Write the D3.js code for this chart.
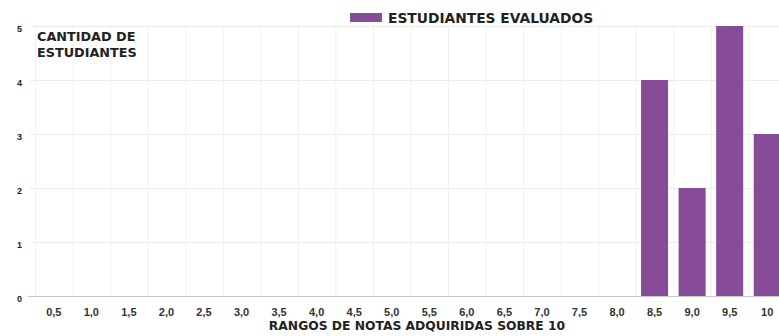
<!DOCTYPE html>
<html>
<head>
<meta charset="utf-8">
<script src="https://cdn.jsdelivr.net/npm/d3@7"></script>
<style>
  body { margin: 0; background: #fff; }
  svg { display: block; font-family: "DejaVu Sans", sans-serif; }
</style>
</head>
<body>
<div id="chart"></div>
<script>
// Data
const categories = ["0,5", "1,0", "1,5", "2,0", "2,5", "3,0", "3,5", "4,0", "4,5", "5,0",
                    "5,5", "6,0", "6,5", "7,0", "7,5", "8,0", "8,5", "9,0", "9,5", "10"];
const estudiantes = [0, 0, 0, 0, 0, 0, 0, 0, 0, 0, 0, 0, 0, 0, 0, 0, 4, 2, 5, 3];
const yTicks = [0, 1, 2, 3, 4, 5];
const seriesName = "ESTUDIANTES EVALUADOS";

const width = 779, height = 336;
const plot = { left: 35, right: 786, top: 26, bottom: 296 };
const barColor = "#874c98";

const svg = d3.select("#chart").append("svg")
    .attr("width", width)
    .attr("height", height);

const x = d3.scaleBand()
    .domain(categories)
    .range([plot.left, plot.right])
    .paddingInner(0.28)
    .paddingOuter(0.14);

const y = d3.scaleLinear()
    .domain([0, 5])
    .range([plot.bottom, plot.top]);

// Horizontal grid
svg.append("g")
    .selectAll("line")
    .data(yTicks.slice(1))
    .join("line")
    .attr("x1", plot.left - 5)
    .attr("x2", width)
    .attr("y1", d => y(d) + 0.5)
    .attr("y2", d => y(d) + 0.5)
    .attr("stroke", "#ebebeb");

// Vertical grid at band boundaries
const step = x.step();
svg.append("g")
    .selectAll("line")
    .data(categories)
    .join("line")
    .attr("x1", d => x(d) - x.paddingInner() * step / 2 + 0.5)
    .attr("x2", d => x(d) - x.paddingInner() * step / 2 + 0.5)
    .attr("y1", plot.top)
    .attr("y2", plot.bottom)
    .attr("stroke", "#f0f0f0");

// Bars
svg.append("g")
    .selectAll("rect")
    .data(categories.map((c, i) => ({ cat: c, value: estudiantes[i] })))
    .join("rect")
    .attr("x", d => x(d.cat))
    .attr("y", d => y(d.value))
    .attr("width", x.bandwidth())
    .attr("height", d => y(0) - y(d.value))
    .attr("fill", barColor);

// Baseline
svg.append("line")
    .attr("x1", plot.left - 7)
    .attr("x2", width)
    .attr("y1", y(0) + 0.5)
    .attr("y2", y(0) + 0.5)
    .attr("stroke", "#c8c8c8");

// Y axis labels
const yAxis = svg.append("g")
    .attr("transform", "translate(22,3)")
    .call(d3.axisLeft(y).tickValues(yTicks).tickFormat(d3.format("d")).tickSize(0).tickPadding(0));
yAxis.select(".domain").remove();
yAxis.selectAll("text")
    .attr("fill", "#222")
    .style("font-size", "9px")
    .style("font-weight", "bold");

// X axis labels
const xAxis = svg.append("g")
    .attr("transform", "translate(0," + (plot.bottom + 8) + ")")
    .call(d3.axisBottom(x).tickSize(0).tickPadding(4));
xAxis.select(".domain").remove();
xAxis.selectAll("text")
    .attr("fill", "#333")
    .style("font-size", "11px")
    .style("font-weight", "bold");

// Y title
const yTitle = svg.append("text")
    .attr("x", 37)
    .attr("y", 41)
    .attr("fill", "#222")
    .style("font-size", "12.8px")
    .style("font-weight", "bold");
yTitle.append("tspan").attr("x", 37).text("CANTIDAD DE");
yTitle.append("tspan").attr("x", 37).attr("dy", 15.5).text("ESTUDIANTES");

// X title
svg.append("text")
    .attr("x", 417)
    .attr("y", 330)
    .attr("text-anchor", "middle")
    .attr("fill", "#222")
    .style("font-size", "12.3px")
    .style("font-weight", "bold")
    .text("RANGOS DE NOTAS ADQUIRIDAS SOBRE 10");

// Legend
const legend = svg.append("g").attr("transform", "translate(350,13)");
legend.append("rect")
    .attr("width", 32)
    .attr("height", 9)
    .attr("fill", barColor);
legend.append("text")
    .attr("x", 38)
    .attr("y", 10)
    .attr("fill", "#222")
    .style("font-size", "13.8px")
    .style("font-weight", "bold")
    .text(seriesName);
</script>
</body>
</html>
